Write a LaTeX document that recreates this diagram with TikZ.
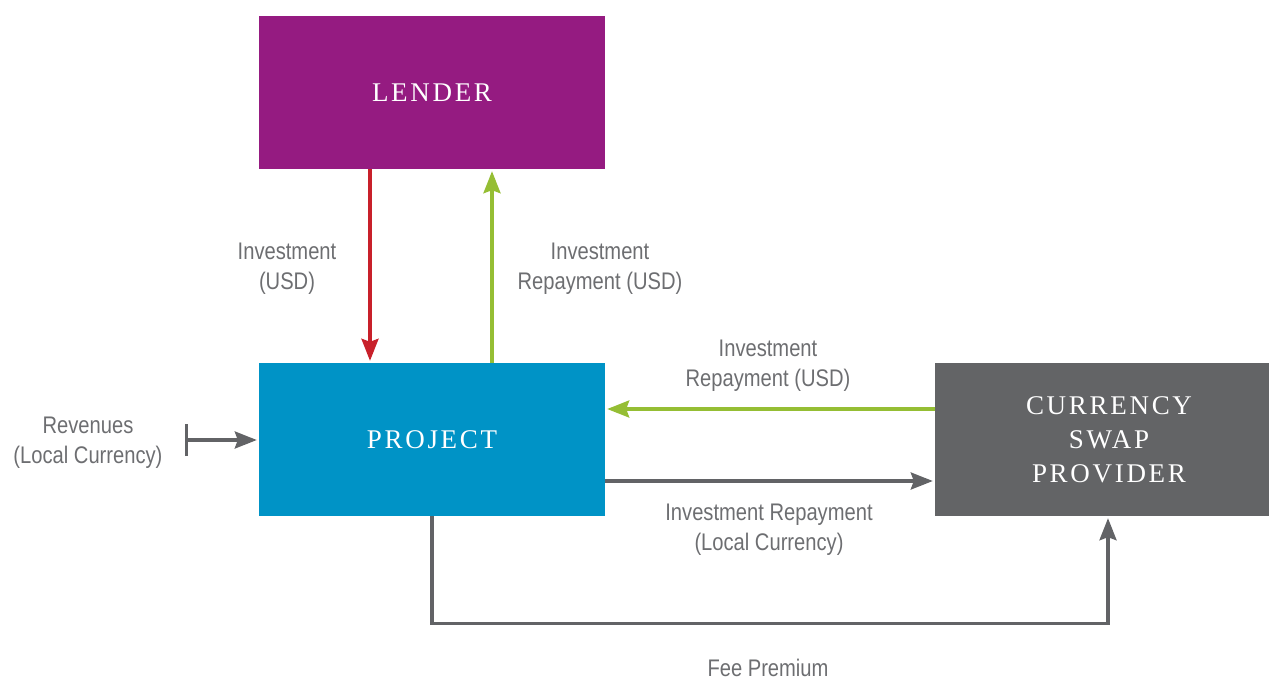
\documentclass[tikz,border=0pt]{standalone}
\usepackage{fontspec}
\usepackage{tikz}
\usetikzlibrary{arrows.meta}
\setmainfont{Liberation Serif}
\newfontfamily\labelfont[FakeStretch=0.84]{Liberation Sans}
\newfontfamily\partyfont[LetterSpace=10]{Liberation Serif}
\definecolor{lenderpurple}{HTML}{951B81}
\definecolor{projectblue}{HTML}{0093C6}
\definecolor{swapgrey}{HTML}{636466}
\definecolor{flowred}{HTML}{C8202A}
\definecolor{flowgreen}{HTML}{95BE34}
\definecolor{flowgrey}{HTML}{626366}
\definecolor{labelgrey}{HTML}{6D6E71}
\tikzset{
	party/.style={fill=#1, text=white, inner sep=0pt, align=center,
		minimum height=153pt, font=\partyfont\fontsize{27}{34}\selectfont},
	flow/.style={draw=#1, line width=3.2pt, shorten >=2pt,
		-{Stealth[length=22pt, width=17pt, inset=3pt]}},
	flowtext/.style={text=labelgrey, align=center, inner sep=0pt,
		font=\labelfont\fontsize{24}{30}\selectfont}
}
\newcommand{\flowlabel}[3]{% name, position, text
	\node[flowtext] (#1) at (#2) {#3};
}

\begin{document}
\begin{tikzpicture}[x=1pt, y=-1pt]
\useasboundingbox (0,0) rectangle (1269,681);

% parties (the swap box runs off the right edge)
\node[party=lenderpurple, minimum width=346pt] (lender) at (432,92.5) {LENDER};
\node[party=projectblue, minimum width=346pt] (project) at (432,439.5) {PROJECT};
\node[party=swapgrey, minimum width=348pt] (swap) at (1109,439.5) {CURRENCY\\SWAP\\PROVIDER};

% flows
\draw[flow=flowred] ([xshift=-62pt]lender.south) -- ([xshift=-62pt]project.north);
\draw[flow=flowgreen] ([xshift=60pt]project.north) -- ([xshift=60pt]lender.south);
\draw[flow=flowgreen] ([yshift=30.5pt]swap.west) -- ([yshift=30.5pt]project.east);
\draw[flow=flowgrey] ([yshift=-41.5pt]project.east) -- ([yshift=-41.5pt]swap.west);
\coordinate (revstart) at (185,440);
\draw[flow=flowgrey, {Bar[width=32pt]}-{Stealth[length=22pt, width=17pt, inset=3pt]}]
	(revstart) -- (project.west |- revstart);
\draw[flow=flowgrey] (project.south) -- ++(0,107) -| ([xshift=-1pt]swap.south);

% labels
\flowlabel{invusd}{287,269}{Investment\\(USD)}
\flowlabel{repusd}{600,269}{Investment\\Repayment (USD)}
\flowlabel{swapusd}{768,366}{Investment\\Repayment (USD)}
\flowlabel{replocal}{769,530}{Investment Repayment\\(Local Currency)}
\flowlabel{revenues}{88,443}{Revenues\\(Local Currency)}
\flowlabel{fee}{768,668}{Fee Premium}
\end{tikzpicture}
\end{document}
